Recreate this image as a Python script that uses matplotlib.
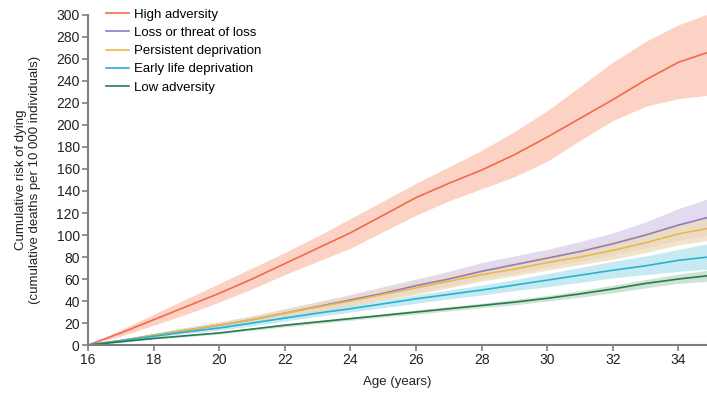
import numpy as np
import matplotlib.pyplot as plt
from matplotlib import font_manager

ages = [16, 17, 18, 19, 20, 21, 22, 23, 24, 25, 26, 27, 28, 29, 30, 31, 32, 33, 34, 34.9]

high = [0, 11, 23, 35, 47, 60, 74, 88, 102, 118, 134, 147, 159, 173, 189, 206, 223, 241, 257, 266]
high_hi = [0, 14, 28, 42, 56, 70, 84, 99, 115, 131, 147, 162, 177, 194, 213, 235, 257, 276, 291, 301]
high_lo = [0, 8, 18, 28, 39, 51, 64, 76, 88, 103, 118, 131, 142, 153, 167, 186, 204, 217, 224, 227]

loss = [0, 4, 9, 13.5, 18, 23, 29, 35, 41, 47, 54, 60, 67, 73, 79, 85, 92, 100, 109, 116]
loss_hi = [0, 5, 10.5, 16, 21, 26.5, 33, 39.5, 46, 53, 60, 67, 75, 81, 87, 94, 102, 112, 124, 133]
loss_lo = [0, 3, 7.5, 11.5, 15.5, 20, 25, 30.5, 36, 41.5, 47.5, 53.5, 60, 65, 71, 76, 82, 88, 95, 100]

persist = [0, 4, 9, 13.5, 18, 23, 29, 34.5, 40, 46, 52, 58, 64, 69, 75, 80, 86, 93, 101, 106]
persist_hi = [0, 5, 10.5, 16, 21, 26.5, 33, 39, 45, 51.5, 58, 64, 70, 76, 82, 88, 95, 103, 111, 115]
persist_lo = [0, 3, 7.5, 11.5, 15.5, 20, 25, 30, 35, 40.5, 46, 52, 58, 63, 68, 73, 78, 84, 91, 95]

early = [0, 4, 8, 12, 15.5, 20, 24.5, 29, 33, 37.5, 42, 46, 50, 54.5, 59, 63.5, 68, 72, 77, 80]
early_hi = [0, 4.5, 9, 13.5, 17.5, 22, 27, 31.5, 36, 40.5, 45.5, 50, 54.5, 59.5, 65, 70.5, 76, 81, 87, 92]
early_lo = [0, 3.5, 7, 10.5, 13.5, 17.5, 22, 26, 30, 34, 38, 42, 45.5, 49.5, 53, 57, 61, 64, 67, 69]

low = [0, 3, 6, 8.5, 11, 14.5, 18, 21, 24, 27, 30, 33, 36, 39, 42.5, 46.5, 51, 56, 60, 63]
low_hi = [0, 3.5, 6.5, 9.5, 12, 15.5, 19.5, 22.5, 25.5, 28.5, 32, 35, 38, 41.5, 45, 49.5, 54.5, 59.5, 64.5, 68]
low_lo = [0, 2.5, 5.5, 7.5, 10, 13.5, 16.5, 19.5, 22.5, 25.5, 28, 31, 34, 36.5, 40, 43.5, 47.5, 52, 56, 58]

x_ticks = list(range(16, 35, 2))
y_ticks = list(range(0, 301, 20))

names = [f.name for f in font_manager.fontManager.ttflist]
if 'Liberation Sans Narrow' in names:
    plt.rcParams['font.family'] = ['Liberation Sans Narrow', 'DejaVu Sans']
else:
    plt.rcParams['font.family'] = ['Liberation Sans', 'DejaVu Sans']

series = [
    ('High adversity', high, high_lo, high_hi, '#f4694c', '#fcc4b0'),
    ('Loss or threat of loss', loss, loss_lo, loss_hi, '#8f7cc4', '#d9cfeb'),
    ('Persistent deprivation', persist, persist_lo, persist_hi, '#e9b84a', '#efdcb8'),
    ('Early life deprivation', early, early_lo, early_hi, '#27b3cf', '#b5e2ee'),
    ('Low adversity', low, low_lo, low_hi, '#2a7a4c', '#bddcc6'),
]

fig = plt.figure(figsize=(7.07, 3.93), dpi=100)
ax = fig.add_axes([0.1245, 0.122, 0.8755, 0.84])

for name, y, lo, hi, col, band in series:
    ax.fill_between(ages, lo, hi, color=band, alpha=0.75, lw=0)
for name, y, lo, hi, col, band in series:
    ax.plot(ages, y, color=col, lw=1.2, label=name)

ax.set_xlim(16, 34.87)
ax.set_ylim(0, 300)
ax.set_xticks(x_ticks)
ax.set_yticks(y_ticks)
for s in ['top', 'right']:
    ax.spines[s].set_visible(False)
for s in ['left', 'bottom']:
    ax.spines[s].set_color('#7f7f7f')
    ax.spines[s].set_linewidth(1.5)
ax.tick_params(direction='out', length=4, width=1.2, color='#7f7f7f',
               labelsize=10, labelcolor='#222222', pad=2)

ax.set_xlabel('Age (years)', fontsize=9.5, color='#222222', labelpad=6)
ax.set_ylabel('Cumulative risk of dying\n(cumulative deaths per 10 000 individuals)',
              fontsize=9.5, color='#222222', labelpad=11, linespacing=1.25)

ax.legend(loc='upper left', bbox_to_anchor=(0.02, 1.035), frameon=False,
          fontsize=9.5, handlelength=1.75, handletextpad=0.4, labelspacing=0.45,
          borderaxespad=0)

fig.savefig('out.png', dpi=100)
